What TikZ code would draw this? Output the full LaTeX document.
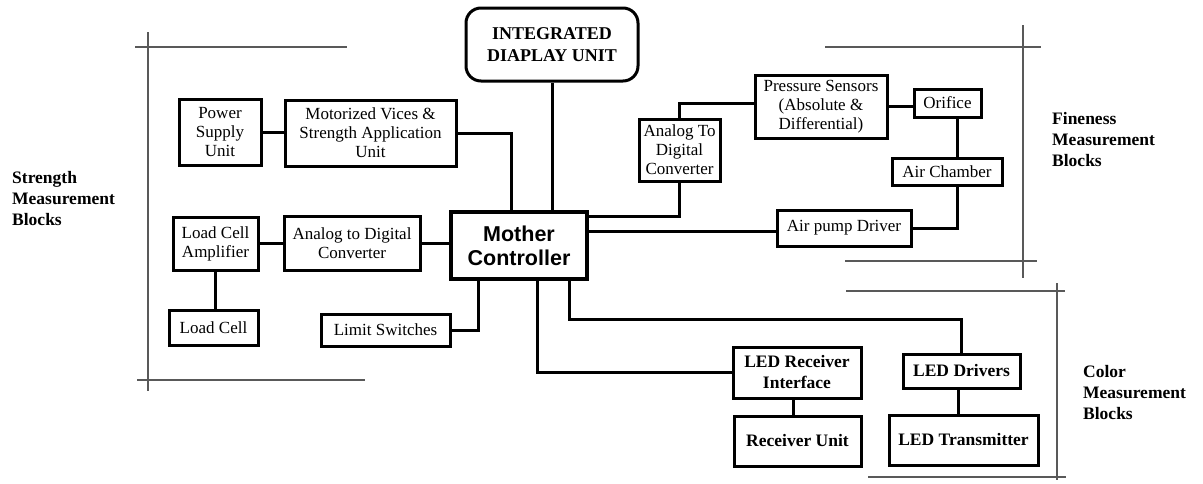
\documentclass[tikz,border=0pt]{standalone}
\usepackage{fontspec}
\setmainfont{Liberation Serif}
\newfontfamily\arialfont{Liberation Sans}
\usetikzlibrary{calc}
\newcommand\rtxt{\fontsize{17}{19}\selectfont}
\newcommand\btxt{\fontsize{17.5}{21}\selectfont\bfseries}
\newcommand\itxt{\fontsize{18}{21.5}\selectfont\bfseries}
\newcommand\ltxt{\fontsize{17.5}{21}\selectfont\bfseries}
\newcommand\mtxt{\arialfont\fontsize{21.5}{24}\selectfont\bfseries}
\tikzset{
  box/.style={draw, line width=3pt, inner sep=0pt, align=center, font=\rtxt},
  bbox/.style={box, font=\btxt},
  wire/.style={line width=3pt},
  brk/.style={line width=1.2pt, draw=black!65},
  lbl/.style={anchor=west, align=left, inner sep=0pt, font=\ltxt}
}
\begin{document}
\begin{tikzpicture}[x=1pt,y=-1pt]
\useasboundingbox (0,0) rectangle (1203,483);
% boxes
\node[box, minimum width=82pt, minimum height=66pt] (psu) at (220,132) {Power\\Supply\\Unit};
\node[box, minimum width=171pt, minimum height=66pt] (mvs) at (370.5,133) {Motorized Vices \&\\Strength Application\\Unit};
\node[box, minimum width=85pt, minimum height=53pt] (lca) at (215.5,243.5) {Load Cell\\Amplifier};
\node[box, minimum width=136pt, minimum height=54pt] (adcl) at (352,243) {Analog to Digital\\Converter};
\node[box, minimum width=89pt, minimum height=35pt] (lc) at (213.5,327.5) {Load Cell};
\node[box, minimum width=129pt, minimum height=32pt] (lim) at (385.5,330) {Limit Switches};
\node[box, line width=3.2pt, minimum width=136pt, minimum height=67pt, font=\mtxt] (mc) at (519,245.5) {Mother\\Controller};
\node[box, rounded corners=15pt, minimum width=172pt, minimum height=73pt, font=\itxt] (idu) at (552,44.5) {INTEGRATED\\DIAPLAY UNIT};
\node[box, minimum width=81pt, minimum height=62pt] (adcr) at (679.5,150) {Analog To\\Digital\\Converter};
\node[box, minimum width=132pt, minimum height=63pt] (ps) at (821,106.5) {Pressure Sensors\\(Absolute \&\\Differential)};
\node[box, minimum width=67pt, minimum height=28pt] (ori) at (947.5,103) {Orifice};
\node[box, minimum width=110pt, minimum height=27pt] (ac) at (947,171.5) {Air Chamber};
\node[box, minimum width=134pt, minimum height=36pt] (apd) at (844,228) {Air pump Driver};
\node[bbox, minimum width=128pt, minimum height=51pt] (lri) at (797,372.5) {LED Receiver\\Interface};
\node[bbox, minimum width=127pt, minimum height=50pt] (ru) at (797.5,441) {Receiver Unit};
\node[bbox, minimum width=117pt, minimum height=34pt] (ld) at (961.5,371) {LED Drivers};
\node[bbox, minimum width=149pt, minimum height=50pt] (lt) at (963.5,440) {LED Transmitter};
% connectors
\draw[wire] (psu.east) -- (psu.east -| mvs.west);
\draw[wire] (mvs.east) -| ([xshift=-8pt]mc.north);
\draw[wire] (idu.south) -- (idu.south |- mc.north);
\draw[wire] (lca.east) -- (lca.east -| adcl.west);
\draw[wire] (adcl.east) -- (adcl.east -| mc.west);
\draw[wire] (lca.south) -- (lca.south |- lc.north);
\draw[wire] ([xshift=-41pt]mc.south) |- (lim.east);
\draw[wire] ([yshift=29.5pt]mc.east) -| (adcr.south);
\draw[wire] (adcr.north) |- ([yshift=3.5pt]ps.west);
\draw[wire] ([yshift=14pt]mc.east) -- ([yshift=14pt]mc.east -| apd.west);
\draw[wire] (ps.east) -- (ps.east -| ori.west);
\draw[wire] ([xshift=9.5pt]ori.south) -- ([xshift=9.5pt]ori.south |- ac.north);
\draw[wire] ([xshift=10pt]ac.south) |- (apd.east);
\draw[wire] ([xshift=18pt]mc.south) |- (lri.west);
\coordinate (cld) at (961.5,319);
\draw[wire] ([xshift=50pt]mc.south) |- (cld) -- (ld.north);
\draw[wire] ([xshift=-4pt]lri.south) -- ([xshift=-4pt]lri.south |- ru.north);
\draw[wire] ([xshift=-3.5pt]ld.south) -- ([xshift=-3.5pt]ld.south |- lt.north);
% group brackets
\draw[brk] (135,47) -- (347,47);
\draw[brk] (148,32) -- (148,391);
\draw[brk] (137,380) -- (365,380);
\draw[brk] (825,47) -- (1041,47);
\draw[brk] (1023,25) -- (1023,278);
\draw[brk] (845,261) -- (1037,261);
\draw[brk] (846,291) -- (1065,291);
\draw[brk] (1057,283) -- (1057,480);
\draw[brk] (868,477) -- (1066,477);
% labels
\node[lbl] (ls) at (12,199) {Strength\\Measurement\\Blocks};
\node[lbl] (lf) at (1052,140) {Fineness\\Measurement\\Blocks};
\node[lbl] (lcm) at (1083,393) {Color\\Measurement\\Blocks};
\end{tikzpicture}
\end{document}
